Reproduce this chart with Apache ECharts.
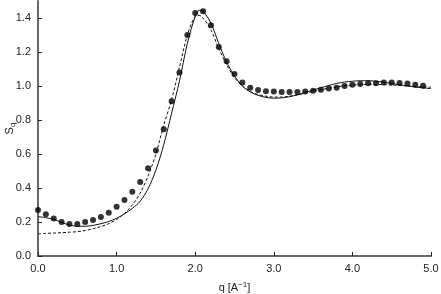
<!DOCTYPE html>
<html>
<head>
<meta charset="utf-8">
<script src="https://cdn.jsdelivr.net/npm/echarts@6/dist/echarts.min.js"></script>
<style>
html,body{margin:0;padding:0;background:#fff;}
#chart{width:441px;height:294px;}
</style>
</head>
<body>
<div id="chart"></div>
<script>
// Measured points (dots)
var dotQ = [0.0,0.1,0.2,0.3,0.4,0.5,0.6,0.7,0.8,0.9,1.0,1.1,1.2,1.3,1.4,1.5,1.6,1.7,1.8,1.9,2.0,2.1,2.2,2.3,2.4,2.5,2.6,2.7,2.8,2.9,3.0,3.1,3.2,3.3,3.4,3.5,3.6,3.7,3.8,3.9,4.0,4.1,4.2,4.3,4.4,4.5,4.6,4.7,4.8,4.9];
var dotS = [0.27,0.245,0.22,0.20,0.188,0.188,0.20,0.212,0.23,0.255,0.29,0.33,0.378,0.435,0.516,0.62,0.745,0.91,1.08,1.30,1.43,1.44,1.357,1.23,1.145,1.07,1.02,0.99,0.976,0.969,0.967,0.965,0.965,0.965,0.967,0.972,0.978,0.986,0.99,1.0,1.008,1.012,1.016,1.016,1.02,1.02,1.018,1.014,1.008,1.002];

// Solid model curve
var solidQ = [0.0,0.1,0.2,0.3,0.4,0.5,0.6,0.7,0.8,0.9,1.0,1.1,1.2,1.3,1.4,1.5,1.6,1.7,1.8,1.9,2.0,2.05,2.1,2.2,2.3,2.4,2.5,2.6,2.7,2.8,2.9,3.0,3.1,3.2,3.3,3.4,3.5,3.6,3.7,3.8,3.9,4.0,4.1,4.2,4.3,4.4,4.5,4.6,4.7,4.8,4.9,5.0];
var solidS = [0.232,0.225,0.215,0.198,0.182,0.175,0.175,0.18,0.19,0.203,0.222,0.248,0.28,0.322,0.395,0.505,0.655,0.84,1.03,1.25,1.41,1.445,1.44,1.37,1.25,1.14,1.06,1.0,0.965,0.945,0.933,0.928,0.93,0.937,0.948,0.962,0.976,0.99,1.003,1.015,1.023,1.028,1.031,1.031,1.028,1.022,1.015,1.007,1.0,0.994,0.989,0.985];

// Dashed model curve
var dashQ = [0.0,0.1,0.2,0.3,0.4,0.5,0.6,0.7,0.8,0.9,1.0,1.1,1.2,1.3,1.4,1.5,1.6,1.7,1.8,1.9,2.0,2.05,2.1,2.2,2.3,2.4,2.5,2.6,2.7,2.8,2.9,3.0,3.1,3.2,3.3,3.4,3.5,3.6,3.7,3.8,3.9,4.0,4.1,4.2,4.3,4.4,4.5,4.6,4.7,4.8,4.9,5.0];
var dashS = [0.13,0.133,0.135,0.137,0.14,0.143,0.15,0.16,0.173,0.19,0.215,0.25,0.3,0.37,0.47,0.6,0.77,0.92,1.11,1.3,1.41,1.415,1.4,1.33,1.22,1.125,1.05,1.0,0.968,0.95,0.94,0.935,0.935,0.94,0.948,0.958,0.968,0.978,0.987,0.995,1.001,1.005,1.008,1.009,1.009,1.008,1.006,1.003,1.0,0.997,0.995,0.993];

// Tick labels
var xTicks = [0,1,2,3,4,5];
var yTicks = [0,0.2,0.4,0.6,0.8,1.0,1.2,1.4];

function pairs(a, b){ return a.map(function(v,i){ return [v, b[i]]; }); }

var chart = echarts.init(document.getElementById('chart'), null, {renderer:'canvas'});
var font = 'Liberation Sans, Arial, sans-serif';
chart.setOption({
  animation: false,
  backgroundColor: '#fff',
  grid: {left: 38, right: 10, top: 1, bottom: 38, containLabel: false, outerBoundsMode: 'none'},
  xAxis: {
    type: 'value', min: 0, max: 5, interval: 1,
    name: '{a|q [A}{sup|−1}{a|]}',
    nameLocation: 'middle', nameGap: 25, nameMoveOverlap: false,
    nameTextStyle: {
      rich: {
        a: {fontFamily: font, fontSize: 11, color: '#222', lineHeight: 14},
        sup: {fontFamily: font, fontSize: 8, color: '#222', verticalAlign: 'top', lineHeight: 8, padding:[0,0,5,0]}
      }
    },
    axisLine: {onZero: false, lineStyle: {color: '#666', width: 2}},
    axisTick: {inside: true, length: 4, lineStyle: {color: '#222', width: 1}},
    splitLine: {show: false},
    axisLabel: {
      margin: 7, fontFamily: font, fontSize: 11, color: '#222',
      formatter: function(v){ return v.toFixed(1); }
    }
  },
  yAxis: {
    type: 'value', min: 0, max: 1.5, interval: 0.2,
    name: '{a|S}{sub|q}',
    nameLocation: 'middle', nameGap: 21, nameRotate: 90, nameMoveOverlap: false,
    nameTextStyle: {
      rich: {
        a: {fontFamily: font, fontSize: 11, color: '#222', lineHeight: 14},
        sub: {fontFamily: font, fontSize: 8, color: '#222', verticalAlign: 'bottom', padding:[5,0,0,0]}
      }
    },
    axisLine: {onZero: false, lineStyle: {color: '#666', width: 2}},
    axisTick: {inside: true, length: 4, lineStyle: {color: '#222', width: 1}, customValues: yTicks},
    splitLine: {show: false},
    axisLabel: {
      margin: 7, fontFamily: font, fontSize: 11, color: '#222',
      customValues: yTicks,
      formatter: function(v){ return v > 1.45 ? '' : v.toFixed(1); }
    }
  },
  series: [
    {
      type: 'line', data: pairs(solidQ, solidS), smooth: 0.3, showSymbol: false,
      lineStyle: {color: '#111', width: 1}, z: 2
    },
    {
      type: 'line', data: pairs(dashQ, dashS), smooth: 0.3, showSymbol: false,
      lineStyle: {color: '#111', width: 1, type: [3,2]}, z: 2
    },
    {
      type: 'scatter', data: pairs(dotQ, dotS), symbol: 'circle', symbolSize: 6,
      itemStyle: {color: '#000'}, z: 3
    }
  ]
});
</script>
</body>
</html>
